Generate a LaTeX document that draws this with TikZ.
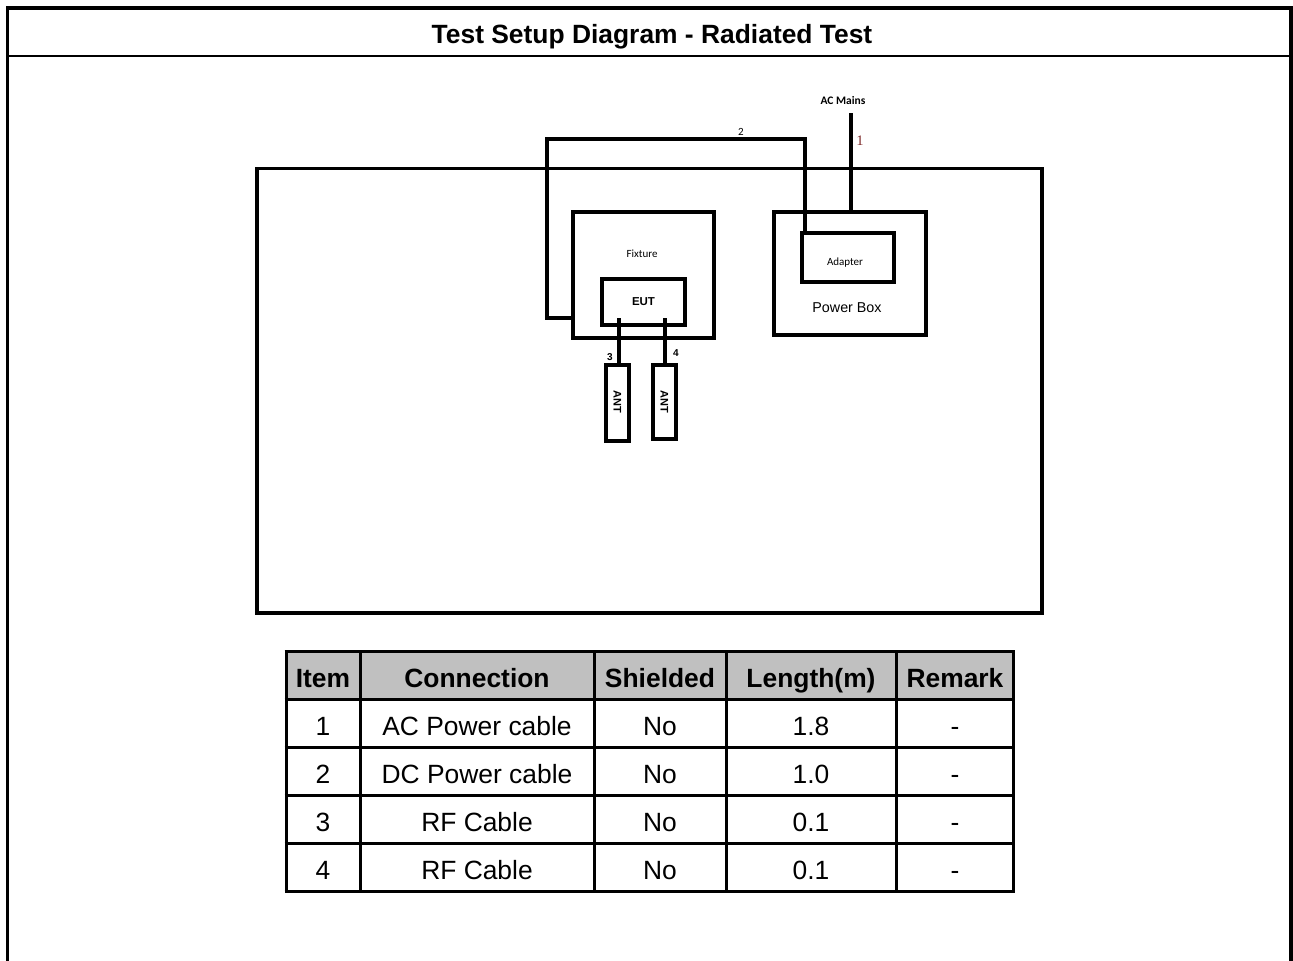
\documentclass[tikz,border=0pt]{standalone}
\usepackage{fontspec}
\setmainfont{Liberation Sans}
\newfontfamily\calib{Carlito}
\newfontfamily\serifr{Liberation Serif}
\definecolor{hdrgray}{RGB}{192,192,192}
\definecolor{labred}{RGB}{125,40,40}
\begin{document}
\begin{tikzpicture}[x=1pt,y=-1pt,
  box/.style={draw, line width=3.4pt, inner sep=0pt, outer sep=0pt},
  cable/.style={line width=3.4pt},
  frameline/.style={line width=3.5pt},
  tabline/.style={line width=3pt},
  bigtxt/.style={font=\fontsize{26.4}{30}\selectfont, anchor=base, inner sep=0pt},
  hdrtxt/.style={font=\bfseries\fontsize{26.4}{30}\selectfont, anchor=base, inner sep=0pt},
  smalltxt/.style={inner sep=0pt}
]
\useasboundingbox (0,0) rectangle (1293,961);

% outer frame and title
\draw[frameline] (7.5,961) -- (7.5,8) -- (1291,8) -- (1291,961);
\draw[line width=2.5pt] (7.5,56) -- (1291,56);
\node[hdrtxt] (title) at (652,43) {Test Setup Diagram - Radiated Test};

% test area
\node[box, minimum width=785pt, minimum height=444.5pt] (area) at (649.5,390.75) {};

% fixture and EUT
\node[box, minimum width=141pt, minimum height=126pt] (fixture) at (643.5,275) {};
\node[smalltxt, font=\calib\fontsize{11}{12}\selectfont] (fixlab) at (642,254) {Fixture};
\node[box, minimum width=83pt, minimum height=46pt, font=\bfseries\fontsize{11.5}{13}\selectfont] (eut) at (643.5,302) {EUT};

% power box and adapter
\node[box, minimum width=152pt, minimum height=123pt] (pbox) at (850,273.5) {};
\node[smalltxt, font=\fontsize{14.3}{16}\selectfont] (pboxlab) at (847,308) {Power Box};
\node[box, minimum width=92pt, minimum height=49pt] (adapter) at (848,257.5) {};
\node[smalltxt, font=\calib\fontsize{11}{12}\selectfont] (adlab) at (845,263) {Adapter};

% antennas
\node[box, minimum width=23pt, minimum height=76pt] (ant1) at (617.5,403) {};
\node[smalltxt, rotate=-90, font=\bfseries\fontsize{11}{13}\selectfont] (ant1lab) at (617.5,402) {ANT};
\node[box, minimum width=23pt, minimum height=74pt] (ant2) at (664.5,402) {};
\node[smalltxt, rotate=-90, font=\bfseries\fontsize{11}{13}\selectfont] (ant2lab) at (664.5,402) {ANT};

% cable 1: AC mains
\node[smalltxt, font=\calib\bfseries\fontsize{11.5}{13}\selectfont] (acm) at (843,101) {AC Mains};
\coordinate (ac) at (851,113);
\draw[cable] (ac) -- (pbox.north -| ac);
\node[smalltxt, text=labred, font=\serifr\fontsize{14.5}{16}\selectfont] (l1) at (860,141) {1};

% cable 2: DC power
\coordinate (c2a) at (805,139);
\coordinate (c2b) at (547,139);
\coordinate (c2c) at (547,318);
\draw[cable] (adapter.north -| c2a) -- (c2a) -- (c2b) -- (c2c) -- (fixture.west |- c2c);
\node[smalltxt, font=\calib\fontsize{11}{12}\selectfont] (l2) at (741,132) {2};

% cables 3 and 4: RF
\coordinate (c3) at (619,318);
\coordinate (c4) at (665,318);
\draw[cable] (c3) -- (ant1.north -| c3);
\draw[cable] (c4) -- (ant2.north -| c4);
\node[smalltxt, font=\bfseries\fontsize{10}{12}\selectfont] (l3) at (610,357) {3};
\node[smalltxt, font=\bfseries\fontsize{10}{12}\selectfont] (l4) at (676,353) {4};

% table
\fill[hdrgray] (286,651) rectangle (1013,699);
\foreach \yy in {651,699,747,795,843,891} \draw[tabline] (284.5,\yy) -- (1014.5,\yy);
\foreach \xx in {286,360,594,726,896,1013} \draw[tabline] (\xx,651) -- (\xx,891);

\node[hdrtxt] (h1) at (323,687.5) {Item};
\node[hdrtxt] (h2) at (477,687.5) {Connection};
\node[hdrtxt] (h3) at (660,687.5) {Shielded};
\node[hdrtxt] (h4) at (811,687.5) {Length(m)};
\node[hdrtxt] (h5) at (955,687.5) {Remark};

\foreach \i/\conn/\len [count=\r from 0] in {1/AC Power cable/1.8, 2/DC Power cable/1.0, 3/RF Cable/0.1, 4/RF Cable/0.1} {
  \pgfmathsetmacro{\yb}{735.5+48*\r}
  \node[bigtxt] (r\i a) at (323,\yb) {\i};
  \node[bigtxt] (r\i b) at (477,\yb) {\conn};
  \node[bigtxt] (r\i c) at (660,\yb) {No};
  \node[bigtxt] (r\i d) at (811,\yb) {\len};
  \node[bigtxt] (r\i e) at (955,\yb) {-};
}
\end{tikzpicture}
\end{document}
